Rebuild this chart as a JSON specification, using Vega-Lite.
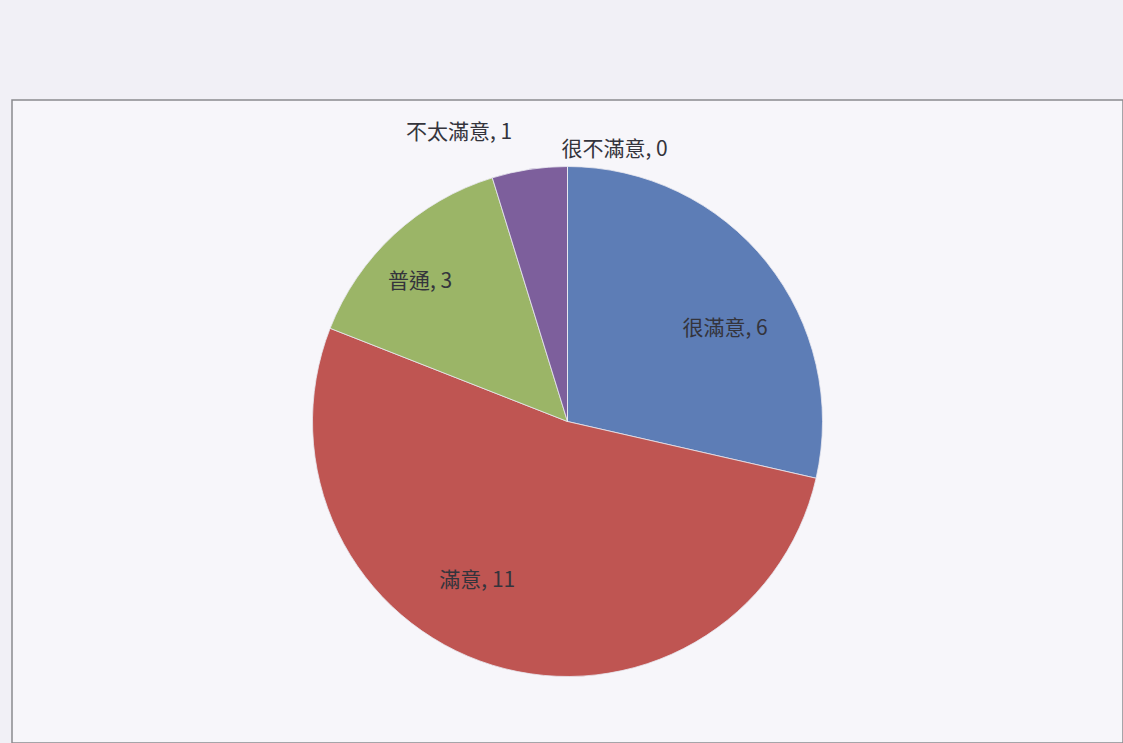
{
  "$schema": "https://vega.github.io/schema/vega-lite/v6.json",
  "width": 1123,
  "height": 743,
  "autosize": {"type": "fit", "contains": "padding"},
  "padding": {"left": 12, "top": 100, "right": 0, "bottom": 0},
  "background": "#F1F0F6",
  "view": {"stroke": "#8a8a8e", "strokeWidth": 1.5, "fill": "#F7F6FA"},
  "config": {
    "view": {"stroke": "#8a8a8e", "strokeWidth": 1.5, "fill": "#F7F6FA"},
    "text": {"font": "Noto Sans CJK TC", "fontSize": 21, "fill": "#34343c"}
  },
  "data": {
    "values": [
      {"category": "很滿意", "count": 6, "order": 1},
      {"category": "滿意", "count": 11, "order": 2},
      {"category": "普通", "count": 3, "order": 3},
      {"category": "不太滿意", "count": 1, "order": 4},
      {"category": "很不滿意", "count": 0, "order": 5}
    ]
  },
  "transform": [{"calculate": "datum.category + ', ' + datum.count", "as": "label"}],
  "encoding": {
    "theta": {"field": "count", "type": "quantitative", "stack": true},
    "order": {"field": "order", "type": "quantitative"}
  },
  "layer": [
    {
      "mark": {"type": "arc", "outerRadius": 255, "stroke": "#e8e8f0", "strokeWidth": 0.8},
      "encoding": {
        "color": {
          "field": "category",
          "type": "nominal",
          "scale": {
            "domain": ["很滿意", "滿意", "普通", "不太滿意", "很不滿意"],
            "range": ["#5D7DB6", "#BF5552", "#9BB567", "#7D5F9C", "#4BACC6"]
          },
          "legend": null
        }
      }
    },
    {
      "mark": {"type": "text", "radius": 185, "dx": 13, "dy": 23},
      "encoding": {"text": {"condition": {"test": "datum.category === '很滿意'", "field": "label"}, "value": ""}}
    },
    {
      "mark": {"type": "text", "radius": 184, "dx": -36, "dy": -16},
      "encoding": {"text": {"condition": {"test": "datum.category === '滿意'", "field": "label"}, "value": ""}}
    },
    {
      "mark": {"type": "text", "radius": 205, "dx": -8, "dy": 11},
      "encoding": {"text": {"condition": {"test": "datum.category === '普通'", "field": "label"}, "value": ""}}
    },
    {
      "mark": {"type": "text", "radius": 290, "align": "right", "dx": -12, "dy": -2},
      "encoding": {"text": {"condition": {"test": "datum.category === '不太滿意'", "field": "label"}, "value": ""}}
    },
    {
      "mark": {"type": "text", "radius": 273, "align": "left", "dx": -6, "dy": 1},
      "encoding": {"text": {"condition": {"test": "datum.category === '很不滿意'", "field": "label"}, "value": ""}}
    }
  ]
}
